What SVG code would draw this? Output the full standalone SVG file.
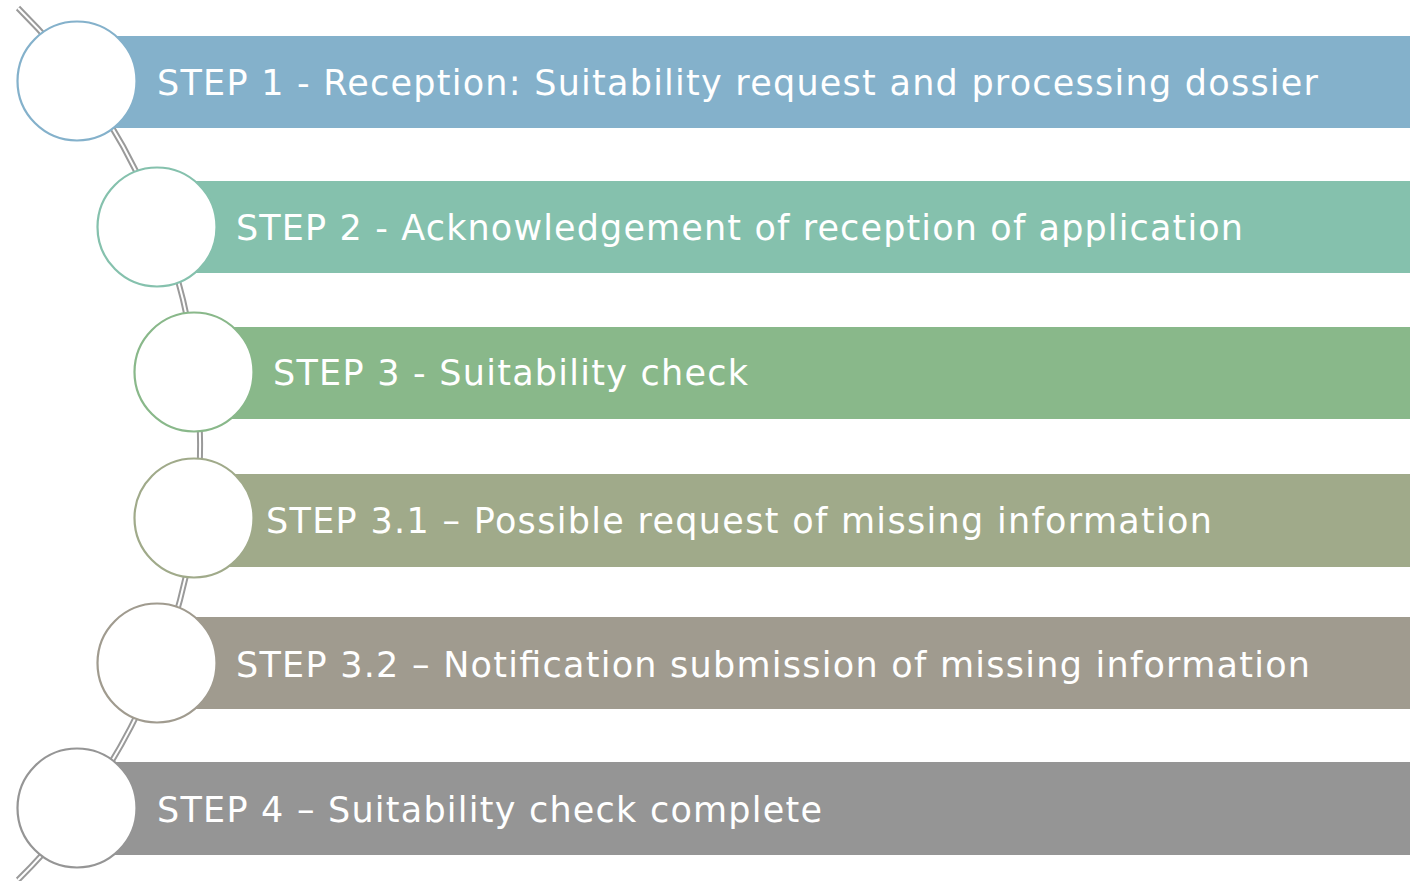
<svg xmlns="http://www.w3.org/2000/svg" width="1410" height="881" viewBox="0 0 1410 881">
<style>
.lbl{font-family:"DejaVu Sans",Verdana,sans-serif;font-size:35px;fill:#fff}
.c{fill:#fff;stroke-width:2.2}
</style>
<rect width="1410" height="881" fill="#fff"/>
<g id="connectors">
<path d="M18,8 A613,613 0 0 1 18,880" fill="none" stroke="#9a9a9a" stroke-width="6"/>
<path d="M18,8 A613,613 0 0 1 18,880" fill="none" stroke="#fff" stroke-width="2"/>
</g>
<g id="step1">
<rect x="77" y="36" width="1333" height="92" fill="#84B1CB"/>
<circle class="c" cx="77" cy="81" r="59.5" stroke="#84B1CB"/>
<text class="lbl" x="157" y="95" textLength="1161" lengthAdjust="spacing">STEP 1 - Reception: Suitability request and processing dossier</text>
</g>
<g id="step2">
<rect x="157" y="181" width="1253" height="92" fill="#85C1AD"/>
<circle class="c" cx="157" cy="227" r="59.5" stroke="#85C1AD"/>
<text class="lbl" x="236" y="240" textLength="1007" lengthAdjust="spacing">STEP 2 - Acknowledgement of reception of application</text>
</g>
<g id="step3">
<rect x="194" y="327" width="1216" height="92" fill="#89B88A"/>
<circle class="c" cx="194" cy="372" r="59.5" stroke="#89B88A"/>
<text class="lbl" x="273" y="385" textLength="475" lengthAdjust="spacing">STEP 3 - Suitability check</text>
</g>
<g id="step3_1">
<rect x="194" y="474" width="1216" height="93" fill="#A0AA8A"/>
<circle class="c" cx="194" cy="518" r="59.5" stroke="#A0AA8A"/>
<text class="lbl" x="266" y="533" textLength="946" lengthAdjust="spacing">STEP 3.1 – Possible request of missing information</text>
</g>
<g id="step3_2">
<rect x="157" y="617" width="1253" height="92" fill="#A09B8F"/>
<circle class="c" cx="157" cy="663" r="59.5" stroke="#A09B8F"/>
<text class="lbl" x="236" y="677" textLength="1074" lengthAdjust="spacing">STEP 3.2 – Notification submission of missing information</text>
</g>
<g id="step4">
<rect x="77" y="762" width="1333" height="93" fill="#959595"/>
<circle class="c" cx="77" cy="808" r="59.5" stroke="#959595"/>
<text class="lbl" x="157" y="822" textLength="665" lengthAdjust="spacing">STEP 4 – Suitability check complete</text>
</g>
</svg>
